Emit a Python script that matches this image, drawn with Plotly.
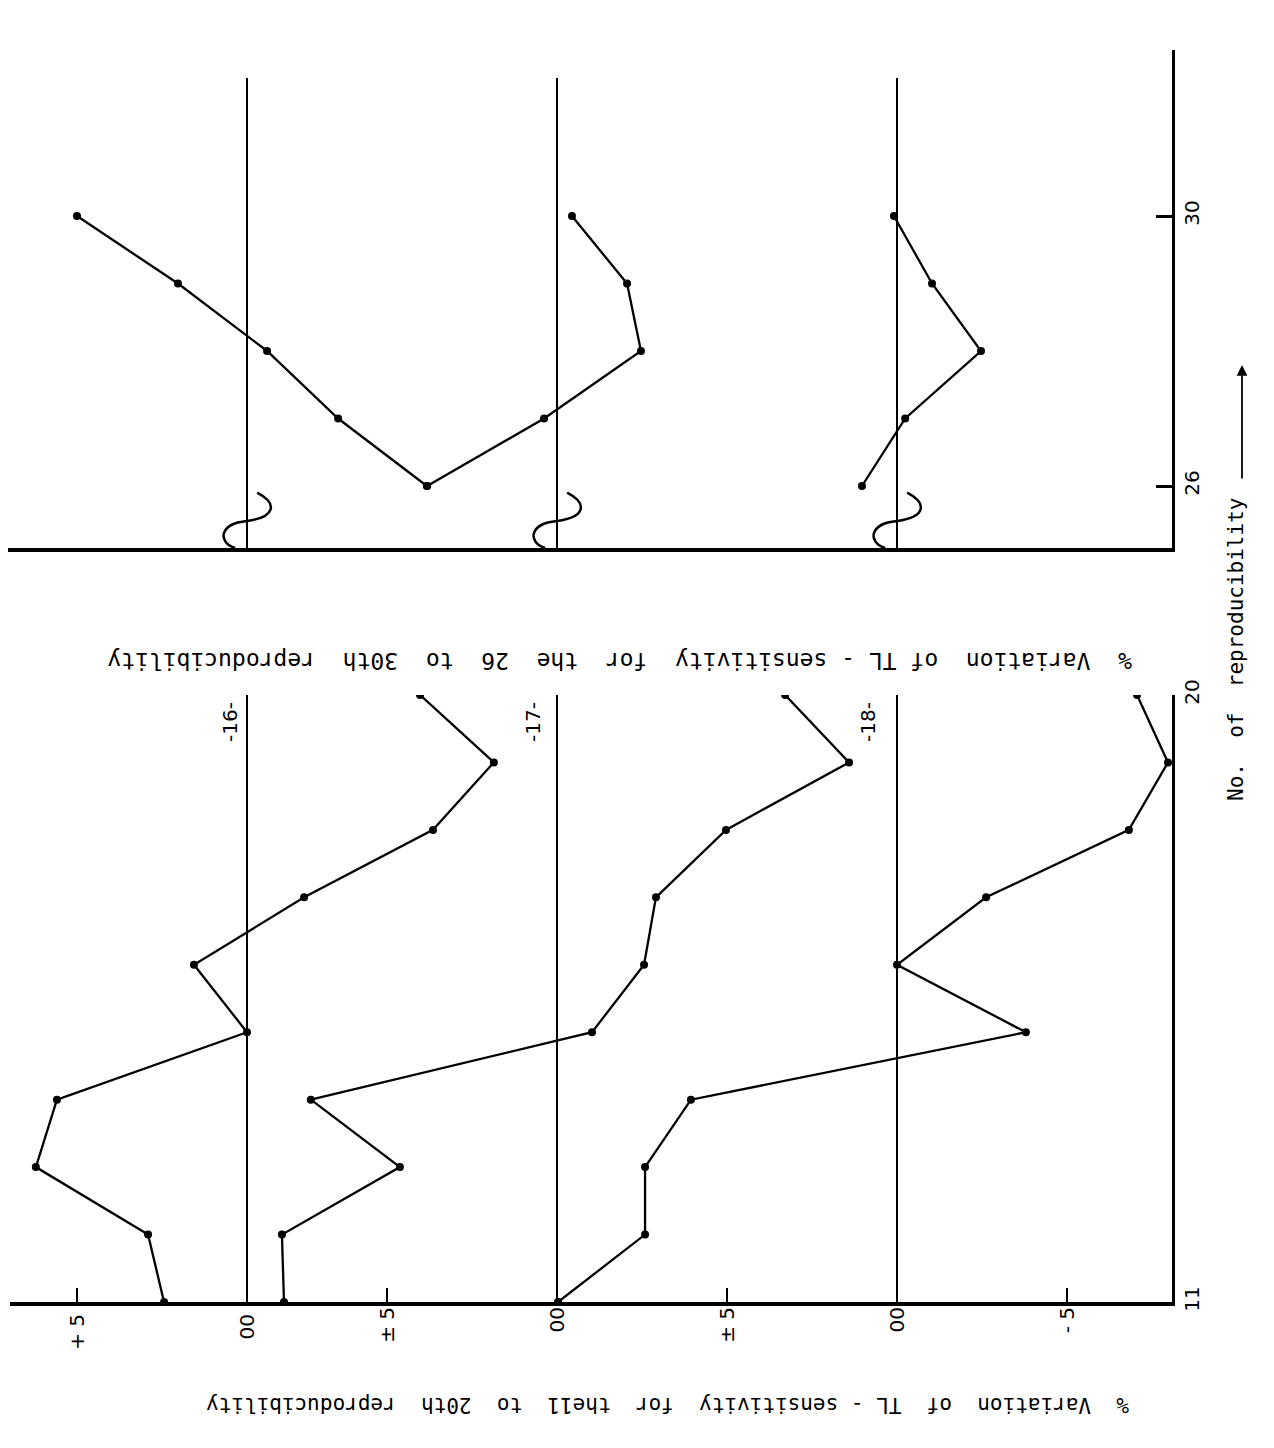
import plotly.graph_objects as go

# ---------------- data ----------------
repro_lower = [11, 12, 13, 14, 15, 16, 17, 18, 19, 20]
repro_upper = [26, 27, 28, 29, 30]

s16_lower = [2.44, 2.91, 6.21, 5.59, 0.0, 1.56, -1.68, -5.47, -7.26, -5.09]
s17_lower = [8.03, 8.09, 4.62, 7.24, -1.03, -2.56, -2.91, -4.97, -8.59, -6.71]
s18_lower = [9.97, 7.41, 7.41, 6.06, -3.79, 0.0, -2.62, -6.82, -7.97, -7.06]

s16_upper = [-5.29, -2.68, -0.59, 2.03, 5.0]
s17_upper = [3.82, 0.38, -2.47, -2.06, -0.44]
s18_upper = [1.03, -0.24, -2.47, -1.03, 0.09]

series_names = ["-16-", "-17-", "-18-"]
lower_tickvals = [[5, 0], [5, 0], [5, 0, -5]]
lower_ticktext = [["+ 5", "00"], ["± 5", "00"], ["± 5", "00", "- 5"]]
y_lower_ticks = [11, 20]
y_upper_ticks = [26, 30]

upper_title = "%  Variation  of TL - sensitivity  for  the  26  to  30th  reproducibility"
lower_title = "%  Variation  of  TL - sensitivity  for  the11  to  20th  reproducibility"
repro_title = "No.  of  reproducibility"

# ---------------- layout geometry (page pixels) ----------------
PAGE_OFF = 8                   # default body margin of the html page
W, H = 1258, 1432
FONT = "DejaVu Sans"
MONO = "DejaVu Sans Mono"
k = 34.0                       # pixels per % unit
zeros = [247, 557, 897]        # page x of each series' zero line
lx0, lx1 = 10, 1172            # lower panel horizontal extent
ux0, ux1 = 8, 1172             # upper panel horizontal extent
ly_bot, ly_top = 1302, 695     # lower panel vertical extent (11 .. 20)
uy_bot, uy_top = 548, 50       # upper panel vertical extent
u26, u30 = 486, 216            # page y of 26 and 30


def nx(p):
    return min(1.0, max(0.0, (p - PAGE_OFF) / W))


def ny(p):
    return min(1.0, max(0.0, 1 - (p - PAGE_OFF) / H))


upy_per = (u26 - u30) / 4.0
u_range = [26 - (uy_bot - u26) / upy_per, 30 + (u30 - uy_top) / upy_per]
zl_top_upper = 30 + (u30 - 78) / upy_per

fig = go.Figure()

lower_data = [s16_lower, s17_lower, s18_lower]
upper_data = [s16_upper, s17_upper, s18_upper]
line_style = dict(color="black", width=2.3)
marker_style = dict(color="black", size=8)

for i in range(3):
    fig.add_trace(go.Scatter(
        x=lower_data[i], y=repro_lower, mode="lines+markers",
        xaxis="x" if i == 0 else f"x{i+1}", yaxis="y",
        line=line_style, marker=marker_style, name=series_names[i],
        showlegend=False))
for i in range(3):
    fig.add_trace(go.Scatter(
        x=upper_data[i], y=repro_upper, mode="lines+markers",
        xaxis=f"x{i+4}", yaxis="y2",
        line=line_style, marker=marker_style, name=series_names[i],
        showlegend=False))

tickfont = dict(size=20, family=FONT, color="black")
layout = dict(
    width=W, height=H,
    margin=dict(l=0, r=0, t=0, b=0),
    paper_bgcolor="white", plot_bgcolor="white",
    font=dict(family=FONT, color="black", size=19),
    showlegend=False,
)

# lower panel x axes
for i in range(3):
    z = zeros[i]
    ax = dict(
        domain=[nx(lx0), nx(lx1)],
        range=[(z - lx0) / k, (z - lx1) / k],
        anchor="y", side="bottom",
        showgrid=False, zeroline=False,
        showline=(i == 0), linecolor="black", linewidth=4,
        ticks="inside", ticklen=14, tickwidth=2, tickcolor="black",
        tickmode="array", tickvals=lower_tickvals[i], ticktext=lower_ticktext[i],
        tickangle=-90, tickfont=tickfont,
        automargin=False, fixedrange=True,
    )
    if i > 0:
        ax["overlaying"] = "x"
    layout["xaxis" if i == 0 else f"xaxis{i+1}"] = ax

# upper panel x axes
for i in range(3):
    z = zeros[i]
    ax = dict(
        domain=[nx(ux0), nx(ux1)],
        range=[(z - ux0) / k, (z - ux1) / k],
        anchor="y2", side="bottom",
        showgrid=False, zeroline=False,
        showline=(i == 0), linecolor="black", linewidth=4,
        ticks="", showticklabels=False,
        automargin=False, fixedrange=True,
    )
    if i > 0:
        ax["overlaying"] = "x4"
    layout[f"xaxis{i+4}"] = ax

layout["yaxis"] = dict(
    domain=[ny(ly_bot), ny(ly_top)], range=[11, 20],
    anchor="x", side="right", showgrid=False, zeroline=False,
    showline=True, linecolor="black", linewidth=3,
    ticks="inside", ticklen=16, tickwidth=2.5, tickcolor="black",
    tickmode="array", tickvals=y_lower_ticks, ticktext=[str(v) for v in y_lower_ticks],
    tickangle=-90, tickfont=tickfont,
    automargin=False, fixedrange=True,
)
layout["yaxis2"] = dict(
    domain=[ny(uy_bot), ny(uy_top)], range=u_range,
    anchor="x4", side="right", showgrid=False, zeroline=False,
    showline=True, linecolor="black", linewidth=3,
    ticks="inside", ticklen=16, tickwidth=2.5, tickcolor="black",
    tickmode="array", tickvals=y_upper_ticks, ticktext=[str(v) for v in y_upper_ticks],
    tickangle=-90, tickfont=tickfont,
    automargin=False, fixedrange=True,
)

shapes = []
for i in range(3):
    # zero lines
    shapes.append(dict(type="line", xref="x" if i == 0 else f"x{i+1}", yref="y",
                       x0=0, x1=0, y0=11, y1=20,
                       line=dict(color="black", width=2)))
    shapes.append(dict(type="line", xref=f"x{i+4}", yref="y2",
                       x0=0, x1=0, y0=u_range[0], y1=zl_top_upper,
                       line=dict(color="black", width=2)))
    # axis-break squiggle near the upper baseline
    b = u_range[0]
    path = (f"M 0.35,{b:.3f} C 0.85,{b+0.08:.3f} 0.85,{b+0.36:.3f} 0,{b+0.40:.3f} "
            f"C -0.85,{b+0.46:.3f} -0.9,{b+0.66:.3f} -0.3,{b+0.82:.3f}")
    shapes.append(dict(type="path", xref=f"x{i+4}", yref="y2", path=path,
                       line=dict(color="black", width=2.5)))
layout["shapes"] = shapes

annotations = []
label_x = [216, 533, 882]
for i in range(3):
    annotations.append(dict(text=series_names[i], x=nx(label_x[i]), y=ny(722),
                            xref="paper", yref="paper", showarrow=False,
                            textangle=-90, font=dict(size=20, family=FONT, color="black")))
annotations.append(dict(text=upper_title.replace(" ", "\u00a0"), x=nx(620), y=ny(661),
                        xref="paper", yref="paper", showarrow=False, textangle=180,
                        font=dict(size=23, family=MONO, color="black")))
annotations.append(dict(text=lower_title.replace(" ", "\u00a0"), x=nx(668), y=ny(1419),
                        xref="paper", yref="paper", showarrow=False, textangle=180,
                        font=dict(size=21, family=MONO, color="black")))
annotations.append(dict(text=repro_title.replace(" ", "\u00a0"), x=nx(1250), y=ny(650),
                        xref="paper", yref="paper", showarrow=False, textangle=-90,
                        font=dict(size=21, family=MONO, color="black")))
annotations.append(dict(text="", x=nx(1242), y=ny(365), xref="paper", yref="paper",
                        showarrow=True, ax=0, ay=115, arrowhead=2, arrowsize=1.2,
                        arrowwidth=1.8, arrowcolor="black"))
layout["annotations"] = annotations

fig.update_layout(**layout)
fig.write_html("out.html")
